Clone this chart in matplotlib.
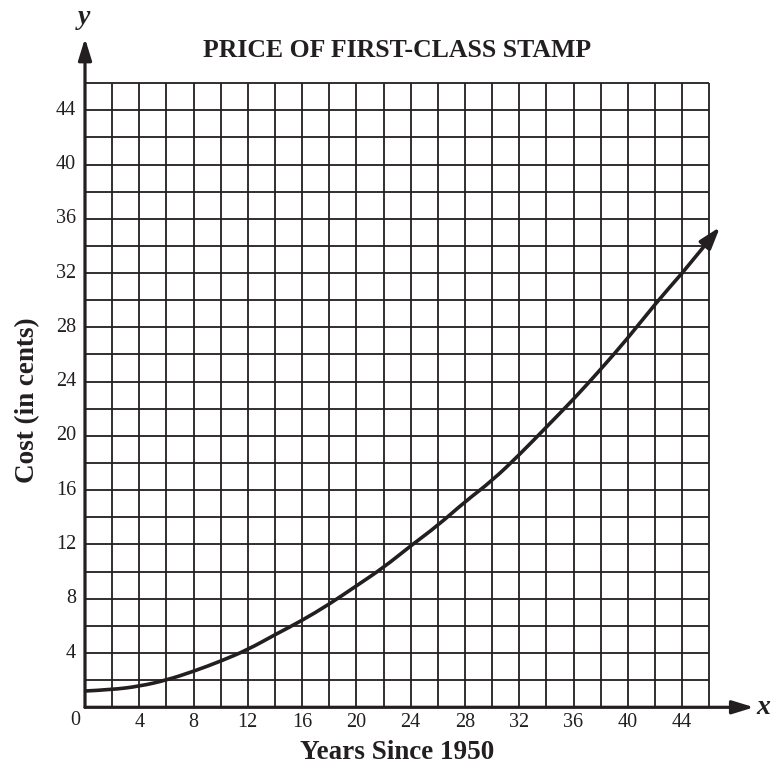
import numpy as np
import matplotlib
matplotlib.use('Agg')
import matplotlib.pyplot as plt
from matplotlib.path import Path
from matplotlib.patches import PathPatch

# Stamp price curve (years since 1950, cents)
years = [0, 2, 4, 6, 8, 10, 12, 14, 16, 18, 20, 22, 24, 26, 28, 30, 32, 34,
         36, 38, 40, 42, 44, 46.8]
cost = [1.2, 1.3, 1.55, 2.0, 2.65, 3.4, 4.25, 5.35, 6.4, 7.6, 8.95, 10.3,
        11.9, 13.4, 15.15, 16.7, 18.6, 20.65, 22.7, 24.9, 27.2, 29.7, 32.0, 35.4]

x_ticks = [4, 8, 12, 16, 20, 24, 28, 32, 36, 40, 44]
y_ticks = [4, 8, 12, 16, 20, 24, 28, 32, 36, 40, 44]
grid_max = 46
axis_end = 49.3

INK = '#231f20'
SERIF = ['Liberation Serif', 'DejaVu Serif']

fig = plt.figure(figsize=(7.72, 7.72), dpi=100)
# 13.57 px per unit, origin at (85, 707) px
ax = fig.add_axes([85 / 772, (772 - 707.3) / 772, 50 * 13.57 / 772, 50 * 13.57 / 772])
ax.set_xlim(0, 50)
ax.set_ylim(0, 50)
ax.axis('off')

# grid, every 2 units
g = np.arange(0, grid_max + 1, 2)
ax.vlines(g, 0, grid_max, color=INK, lw=1.3, zorder=1)
ax.hlines(g, 0, grid_max, color=INK, lw=1.3, zorder=1)

# axes with arrows
arrow_axis = dict(arrowstyle='-|>,head_length=1.3,head_width=0.4', lw=2.3,
                  color=INK, shrinkA=0, shrinkB=0)
ax.annotate('', xy=(0, axis_end), xytext=(0, 0), arrowprops=arrow_axis, zorder=3)
ax.annotate('', xy=(axis_end, 0), xytext=(0, 0), arrowprops=arrow_axis, zorder=3)

# curve: smooth quadratic bezier through the read points (points act as controls)
pts = list(zip(years[:-1], cost[:-1]))
verts = [pts[0]]
codes = [Path.MOVETO]
for i in range(1, len(pts) - 1):
    mid = ((pts[i][0] + pts[i + 1][0]) / 2, (pts[i][1] + pts[i + 1][1]) / 2)
    verts += [pts[i], mid]
    codes += [Path.CURVE3, Path.CURVE3]
verts.append(pts[-1])
codes.append(Path.LINETO)
ax.add_patch(PathPatch(Path(verts, codes), facecolor='none', edgecolor=INK,
                       lw=2.6, capstyle='butt', joinstyle='round', zorder=4))
ax.annotate('', xy=(years[-1], cost[-1]), xytext=(years[-2], cost[-2]),
            arrowprops=dict(arrowstyle='-|>,head_length=1.3,head_width=0.42',
                            lw=2.6, color=INK, shrinkA=0, shrinkB=0), zorder=4)

# tick labels
for t in x_ticks:
    ax.text(t, -1.1, str(t), ha='center', va='center', fontsize=14.5,
            family=SERIF, color=INK)
ax.text(-0.7, -1.0, '0', ha='center', va='center', fontsize=14.5,
        family=SERIF, color=INK)
for t in y_ticks:
    ax.text(-0.65, t, str(t), ha='right', va='center', fontsize=14.5,
            family=SERIF, color=INK)

# titles and axis names
ax.text(23, 48.4, 'PRICE OF FIRST-CLASS STAMP', ha='center', va='center',
        fontsize=18.5, fontweight='bold', family=SERIF, color=INK)
ax.text(23, -3.3, 'Years Since 1950', ha='center', va='center',
        fontsize=19.5, fontweight='bold', family=SERIF, color=INK)
ax.text(-4.2, 22.6, 'Cost (in cents)', ha='center', va='center', rotation=90,
        fontsize=19.5, fontweight='bold', family=SERIF, color=INK)
ax.text(-0.1, 50.8, 'y', ha='center', va='center', fontsize=20,
        fontweight='bold', fontstyle='italic', family=SERIF, color=INK)
ax.text(50.0, 0.0, 'x', ha='center', va='center', fontsize=20,
        fontweight='bold', fontstyle='italic', family=SERIF, color=INK)

fig.savefig('out.png', dpi=100, facecolor='white')
